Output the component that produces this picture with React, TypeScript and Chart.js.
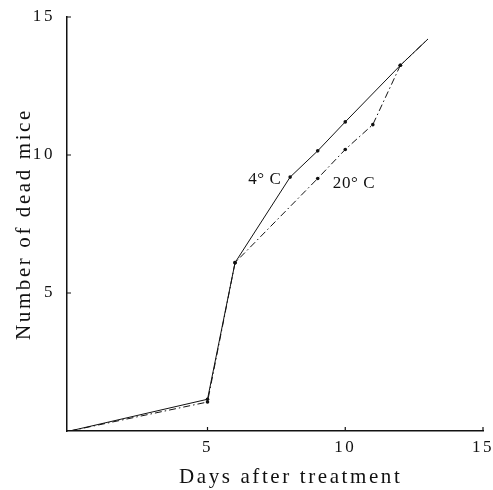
import React, { useEffect, useRef } from "react";
import { Chart, registerables } from "chart.js";

Chart.register(...registerables);

// ---- data ----
const days4C = [0, 5, 6, 8, 9, 10, 12, 13];
const mice4C = [0, 1.15, 6.1, 9.2, 10.15, 11.2, 13.25, 14.2];
const days20C = [0, 5, 6, 9, 10, 11, 12, 13];
const mice20C = [0, 1.05, 6.1, 9.15, 10.2, 11.1, 13.25, 14.2];

const xTicks = [5, 10, 15];
const yTicks = [5, 10, 15];

const seriesLabels = ["4\u00B0 C", "20\u00B0 C"];
const labelDays = [7.08, 10.32];
const labelMice = [9.1, 8.95];

const xTitle = "    Days after treatment";
const yTitle = "Number of dead mice";

const FONT = "'Liberation Serif', 'DejaVu Serif', serif";
const INK = "#111";

const paperPlugin = {
  id: "paper",
  beforeDraw(chart: any) {
    (chart.ctx as any).letterSpacing = "2.6px";
  },
  afterDatasetsDraw(chart: any) {
    const { ctx, scales } = chart;
    const x = scales.x;
    const y = scales.y;
    ctx.save();
    (ctx as any).letterSpacing = "0.6px";
    ctx.strokeStyle = INK;
    ctx.lineWidth = 1.2;
    ctx.beginPath();
    for (const v of xTicks) {
      const px = x.getPixelForValue(v);
      ctx.moveTo(px, y.bottom);
      ctx.lineTo(px, y.bottom - 4);
    }
    for (const v of yTicks) {
      const py = y.getPixelForValue(v);
      ctx.moveTo(x.left, py);
      ctx.lineTo(x.left + 4, py);
    }
    ctx.stroke();
    ctx.fillStyle = INK;
    ctx.font = `17px ${FONT}`;
    ctx.textAlign = "center";
    ctx.textBaseline = "middle";
    seriesLabels.forEach((t, i) => {
      ctx.fillText(t, x.getPixelForValue(labelDays[i]), y.getPixelForValue(labelMice[i]));
    });
    ctx.restore();
  },
  afterDraw(chart: any) {
    (chart.ctx as any).letterSpacing = "0px";
  },
};

export default function App() {
  const ref = useRef<HTMLCanvasElement | null>(null);

  useEffect(() => {
    if (!ref.current) return;
    const chart = new Chart(ref.current, {
      type: "line",
      data: {
        datasets: [
          {
            label: seriesLabels[0],
            data: days4C.map((d, i) => ({ x: d, y: mice4C[i] })),
            borderColor: INK,
            backgroundColor: INK,
            borderWidth: 1,
            pointRadius: days4C.map((d, i) => (i === 0 || i === days4C.length - 1 ? 0 : 1.8)),
            pointBorderWidth: 0,
            tension: 0,
          },
          {
            label: seriesLabels[1],
            data: days20C.map((d, i) => ({ x: d, y: mice20C[i] })),
            borderColor: INK,
            backgroundColor: INK,
            borderWidth: 1,
            borderDash: [7, 3, 1.5, 3],
            pointRadius: days20C.map((d, i) => (i === 0 || i === days20C.length - 1 ? 0 : 1.8)),
            pointBorderWidth: 0,
            tension: 0,
          },
        ],
      },
      options: {
        responsive: false,
        animation: false,
        events: [],
        layout: { padding: { top: 17, right: 10, left: 0, bottom: 0 } },
        plugins: { legend: { display: false }, tooltip: { enabled: false } },
        scales: {
          x: {
            type: "linear",
            min: -0.1,
            max: 15,
            afterBuildTicks: (s: any) => {
              s.ticks = xTicks.map((v) => ({ value: v }));
            },
            afterFit: (s: any) => {
              s.height = 59;
              s.paddingLeft = 0;
              s.paddingRight = 0;
            },
            grid: { display: true, drawOnChartArea: false, drawTicks: false },
            border: { display: true, color: INK, width: 1.5 },
            ticks: {
              color: INK,
              padding: 6,
              maxRotation: 0,
              font: { family: FONT, size: 17 },
            },
            title: {
              display: true,
              text: xTitle,
              color: INK,
              font: { family: FONT, size: 21, lineHeight: 1 },
              padding: { top: 0, bottom: 2.5 },
            },
          },
          y: {
            type: "linear",
            min: 0,
            max: 15,
            afterBuildTicks: (s: any) => {
              s.ticks = yTicks.map((v) => ({ value: v }));
            },
            afterFit: (s: any) => {
              s.width = 67;
              s.paddingTop = 0;
              s.paddingBottom = 0;
            },
            grid: { display: true, drawOnChartArea: false, drawTicks: false },
            border: { display: true, color: INK, width: 1.5 },
            ticks: {
              color: INK,
              padding: 12,
              font: { family: FONT, size: 17 },
            },
            title: {
              display: true,
              text: yTitle,
              color: INK,
              font: { family: FONT, size: 21, lineHeight: 1 },
              padding: { top: 14, bottom: 0 },
            },
          },
        },
      },
      plugins: [paperPlugin],
    });
    return () => chart.destroy();
  }, []);

  return (
    <div style={{ position: "fixed", left: 0, top: 0, width: 493, height: 490, background: "#fff" }}>
      <canvas ref={ref} width={493} height={490} />
    </div>
  );
}
